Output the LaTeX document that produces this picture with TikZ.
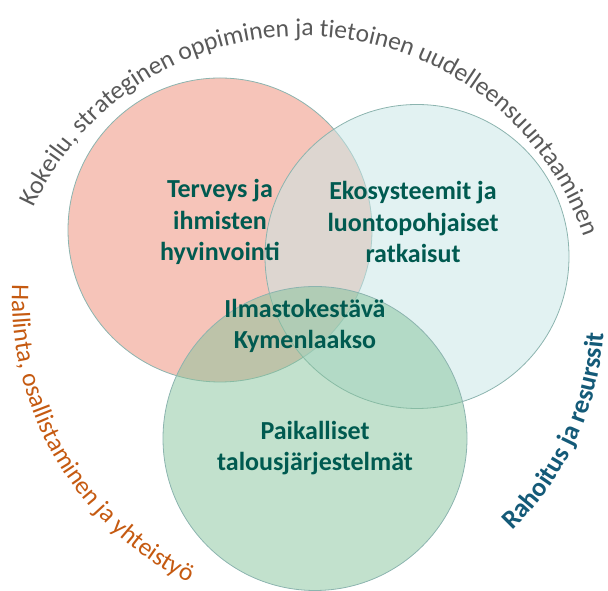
\documentclass[tikz,border=0pt]{standalone}
\usepackage{fontspec}
\setmainfont{Carlito}
\usetikzlibrary{decorations.text}

\definecolor{punainen}{RGB}{246,196,185}
\definecolor{turkoosi}{RGB}{200,230,230}
\definecolor{vihrea}{RGB}{133,195,155}
\definecolor{reuna}{RGB}{140,180,175}
\definecolor{tumma}{RGB}{0,90,80}
\definecolor{harmaa}{RGB}{89,89,89}
\definecolor{oranssi}{RGB}{197,90,17}
\definecolor{sininen}{RGB}{20,90,120}

\tikzset{
  piiri/.style={circle, draw=reuna, line width=0.8pt, minimum size=304pt, inner sep=0pt},
  teema/.style={font=\fontsize{26}{31.5}\selectfont\bfseries, text=tumma, align=center},
}

\begin{document}
\begin{tikzpicture}[x=1pt,y=1pt]
\useasboundingbox (0,0) rectangle (608,591);

\node [piiri, fill=punainen] (terveys) at (220,361) {};
\node [piiri, fill=turkoosi, fill opacity=0.53] (ekosys) at (417,334.5) {};
\node [piiri, fill=vihrea, fill opacity=0.5] (talous) at (315,152.5) {};

\node [teema] (terveys_t) at (220,369) {Terveys ja\\ihmisten\\hyvinvointi};
\node [teema] (ekosys_t) at (413,369) {Ekosysteemit ja\\luontopohjaiset\\ratkaisut};
\node [teema] (keski_t) at (305,265) {Ilmastokestävä\\Kymenlaakso};
\node [teema] (talous_t) at (315,143) {Paikalliset\\talousjärjestelmät};

% reunatekstit
\coordinate (ylakaari) at (303,258);
\coordinate (vasenkaari) at (330,293);
\coordinate (oikeakaari) at (308,275);

\path [decorate, decoration={text along path, text align=center,
  text={|\fontsize{25.5}{30}\selectfont\color{harmaa}|Kokeilu, strateginen oppiminen ja tietoinen uudelleensuuntaaminen}}]
  ([shift={(177:297)}]ylakaari) arc [start angle=177, end angle=-3, radius=297];

\path [decorate, decoration={text along path, text align=left,
  text={|\fontsize{25.5}{30}\selectfont\color{oranssi}|Hallinta, osallistaminen ja yhteistyö}}]
  ([shift={(177.5:318)}]vasenkaari) arc [start angle=177.5, end angle=275, radius=318];

\path [decorate, decoration={text along path, text align=left,
  text={|\fontsize{26.5}{30}\selectfont\bfseries\color{sininen}|Rahoitus ja resurssit}}]
  ([shift={(-46.4:296)}]oikeakaari) arc [start angle=-46.4, end angle=10, radius=296];
\end{tikzpicture}
\end{document}
